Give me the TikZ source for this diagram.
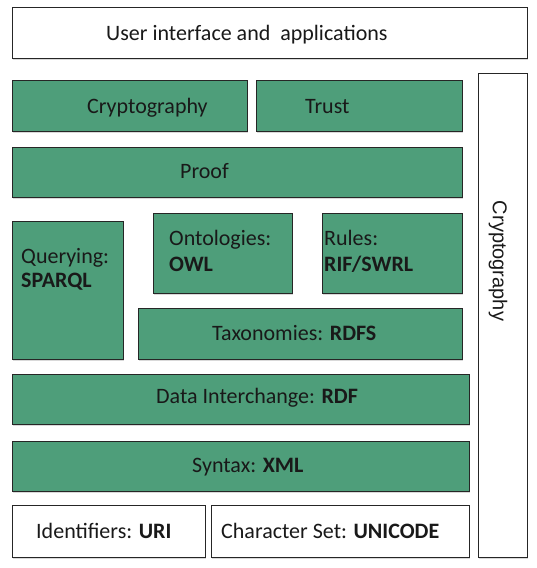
\documentclass[tikz,border=0pt]{standalone}
\usepackage{fontspec}
\setmainfont{Carlito}
\newfontfamily\sidefont{Liberation Sans}
\usetikzlibrary{shadows}
\definecolor{layergreen}{RGB}{78,158,122}
\definecolor{layertext}{RGB}{25,25,25}
\tikzset{
  layer/.style={draw=black!85, line width=0.8pt, rectangle, inner sep=0pt,
    drop shadow={shadow xshift=1pt, shadow yshift=-1.5pt, opacity=0.3}},
  greenlayer/.style={layer, fill=layergreen},
  whitelayer/.style={layer, fill=white},
  lbl/.style={inner sep=0pt, anchor=base west, text=layertext,
    font=\fontsize{22}{27}\selectfont},
}
% box from (x1,y1) to (x2,y2), pixel-like coordinates
\newcommand\layerbox[6]{%
  \node[#1, minimum width={(#5-#3)*1pt}, minimum height={(#6-#4)*1pt}]
    (#2) at ({(#3+#5)/2},{(#4+#6)/2}) {};}

\begin{document}
\begin{tikzpicture}[x=1pt, y=-1pt]
\useasboundingbox (0,0) rectangle (536,568);

% boxes
\layerbox{whitelayer}{ui}{12}{7}{527}{58}
\layerbox{greenlayer}{crypto}{12}{80}{247}{131}
\layerbox{greenlayer}{trust}{256}{80}{462}{131}
\layerbox{whitelayer}{side}{478}{73}{527}{557}
\layerbox{greenlayer}{proof}{12}{147}{462}{197}
\layerbox{greenlayer}{query}{12}{221}{123}{359}
\layerbox{greenlayer}{onto}{153}{213}{292}{293}
\layerbox{greenlayer}{rules}{322}{213}{462}{293}
\layerbox{greenlayer}{taxo}{138}{308}{462}{359}
\layerbox{greenlayer}{rdf}{12}{374}{469}{424}
\layerbox{greenlayer}{xml}{12}{441}{469}{491}
\layerbox{whitelayer}{uri}{12}{505}{205}{557}
\layerbox{whitelayer}{unicode}{211}{505}{469}{557}

% labels
\node[lbl] (uiT) at (106,40) {User interface and\ \ applications};
\node[lbl] (cryptoT) at (87,113) {Cryptography};
\node[lbl] (trustT) at (305,113) {Trust};
\node[lbl] (proofT) at (180,178) {Proof};
\node[lbl] (queryT) at (21,263) {Querying:};
\node[lbl] (queryB) at (21,287) {\bfseries SPARQL};
\node[lbl] (ontoT) at (169,245) {Ontologies:};
\node[lbl] (ontoB) at (169,271) {\bfseries OWL};
\node[lbl] (rulesT) at (324,245) {Rules:};
\node[lbl] (rulesB) at (324,271) {\bfseries RIF/SWRL};
\node[lbl] (taxoT) at (212,340) {Taxonomies: \textbf{RDFS}};
\node[lbl] (rdfT) at (156,403) {Data Interchange: \textbf{RDF}};
\node[lbl] (xmlT) at (192,472) {Syntax: \textbf{XML}};
\node[lbl] (uriT) at (36,538) {Identifiers: \textbf{URI}};
\node[lbl] (unicodeT) at (221,538) {Character Set: \textbf{UNICODE}};
\node[inner sep=0pt, rotate=-90, text=layertext,
  font=\sidefont\fontsize{20}{24}\selectfont] (sideT) at (498,261) {Cryptography};
\end{tikzpicture}
\end{document}
